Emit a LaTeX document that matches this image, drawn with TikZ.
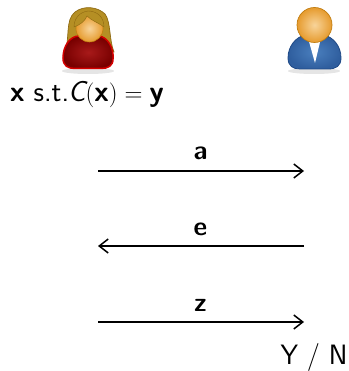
\documentclass[tikz,border=0pt]{standalone}
\usepackage{amsmath}
\usetikzlibrary{arrows.meta}
\definecolor{hairc}{HTML}{B58F24}
\definecolor{haird}{HTML}{8F6A12}
\definecolor{skinl}{HTML}{F8D49A}
\definecolor{skind}{HTML}{E69B2E}
\definecolor{skine}{HTML}{C17D11}
\definecolor{redl}{HTML}{A81A1A}
\definecolor{redd}{HTML}{780000}
\definecolor{rede}{HTML}{D40000}
\definecolor{bluel}{HTML}{4A7FBE}
\definecolor{blued}{HTML}{2F5E9E}
\definecolor{bluee}{HTML}{204A87}
\tikzset{
  msg/.style={line width=1.5pt,-{Straight Barb[length=9pt,width=14pt,line width=1.5pt]}},
  lab/.style={inner sep=0pt,anchor=base,font=\fontsize{29}{34}\selectfont\sffamily},
  boldlab/.style={inner sep=0pt,anchor=base,font=\fontsize{26.5}{31}\selectfont\sffamily\bfseries},
}
\newcommand{\bx}[1]{\mbox{\sffamily\bfseries #1}}
\begin{document}
\begin{tikzpicture}[x=1pt,y=-1pt]
\useasboundingbox (0,0) rectangle (348,371);
% woman
\fill[black,opacity=.10] (88,71) ellipse (26 and 3);
\fill[hairc,draw=haird,line width=.7pt]
 (65,52) .. controls (70,38) and (65,20) .. (75,12) .. controls (84,5) and (98,7) .. (105,14) .. controls (111,22) and (109,40) .. (114,52) -- cycle;
\shade[inner color=redl,outer color=redd,draw=rede,line width=1.5pt]
 (63,58) .. controls (63,46) and (70,36) .. (79,36) -- (99,36) .. controls (107,37) and (114,47) .. (113,59) .. controls (113,66) and (108,68.5) .. (101,68.5) -- (75,68.5) .. controls (68,68.5) and (63,66) .. (63,58) -- cycle;
\shade[inner color=skinl,outer color=skind,draw=skine,line width=.6pt] (89.5,28.5) circle (13.5);
\fill[hairc,draw=haird,line width=.4pt] (74,27) .. controls (80,25) and (85,21) .. (87,16) .. controls (92,21) and (99,23) .. (104,27) .. controls (104,16) and (96,11) .. (88,11) .. controls (80,12) and (74,18) .. (74,27) -- cycle;
% man
\fill[black,opacity=.10] (314,71) ellipse (26 and 3);
\shade[inner color=bluel,outer color=blued,draw=bluee,line width=.8pt]
 (288,58) .. controls (288,46) and (296,37) .. (305,35) -- (324,35) .. controls (333,37) and (341,46) .. (341,58) .. controls (341,66) and (336,69) .. (328,69) -- (300,69) .. controls (293,69) and (288,66) .. (288,58) -- cycle;
\fill[white] (308,38) -- (321,38) -- (315,63) -- cycle;
\shade[inner color=skinl,outer color=skind,draw=skine,line width=.7pt] (314.5,25) circle (17.5);
% text
\node[lab] (secret) at (87,102) {\bx{x} s.t.\kern-1pt{\slshape C}$(\bx{x})=\bx{y}$};
\coordinate (al) at (98,171); \coordinate (ar) at (304,171);
\coordinate (el) at (98,246); \coordinate (er) at (304,246);
\coordinate (zl) at (98,322); \coordinate (zr) at (304,322);
\draw[msg] (al) -- (ar);
\draw[msg] (er) -- (el);
\draw[msg] (zl) -- (zr);
\node[boldlab] (a) at (200.5,160) {a};
\node[boldlab] (e) at (200.5,235) {e};
\node[boldlab] (z) at (200.5,311) {z};
\node[lab,font=\fontsize{28}{32}\selectfont\sffamily] (yn) at (314,364) {Y / N};
\end{tikzpicture}
\end{document}
